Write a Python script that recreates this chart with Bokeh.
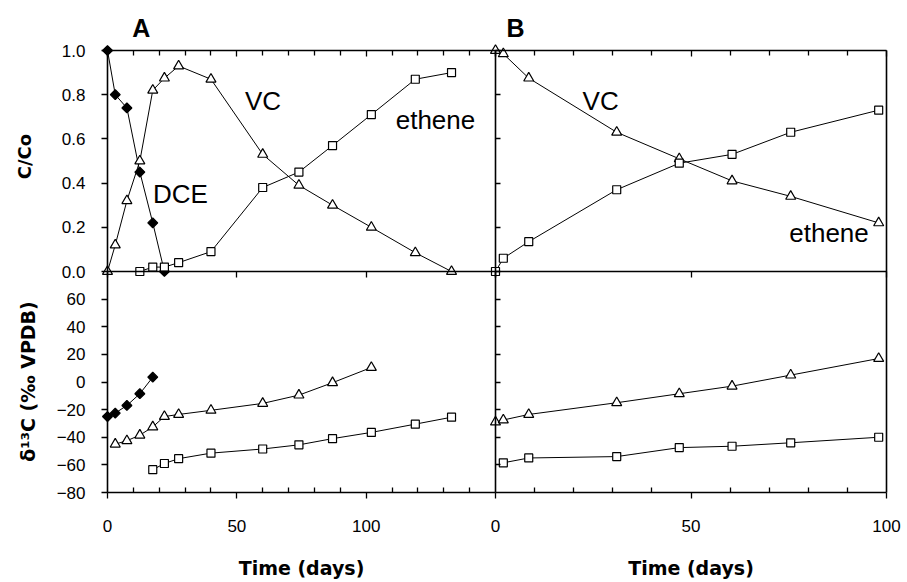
import numpy as np
from bokeh.plotting import figure
from bokeh.models import (LinearAxis, FixedTicker, NumeralTickFormatter, Label,
                          ColumnDataSource, Range1d)
from bokeh.embed import file_html
from bokeh.resources import INLINE

FONT = "Liberation Sans"
TITLE_FONT = "DejaVu Sans"

# ---------------- data ----------------
# Panel A - relative concentration C/Co
a_dce_t = [0, 3, 7.5, 12.5, 17.5, 22]
a_dce_c = [1.0, 0.80, 0.74, 0.45, 0.22, 0.0]
a_vc_t = [0, 3, 7.5, 12.5, 17.5, 22, 27.5, 40, 60, 74, 87, 102, 119, 133]
a_vc_c = [0.0, 0.12, 0.32, 0.50, 0.82, 0.875, 0.93, 0.87, 0.53, 0.39, 0.30, 0.20, 0.085, 0.0]
a_eth_t = [12.5, 17.5, 22, 27.5, 40, 60, 74, 87, 102, 119, 133]
a_eth_c = [0.0, 0.02, 0.02, 0.04, 0.09, 0.38, 0.45, 0.57, 0.71, 0.87, 0.90]
# Panel A - delta 13C
a_dce_dt = [0, 3, 7.5, 12.5, 17.5]
a_dce_d = [-25, -22.5, -17, -8.5, 3.5]
a_vc_dt = [3, 7.5, 12.5, 17.5, 22, 27.5, 40, 60, 74, 87, 102]
a_vc_d = [-45, -42.5, -38.5, -32.5, -25, -23.5, -20.5, -15.5, -9.5, -0.5, 10.5]
a_eth_dt = [17.5, 22, 27.5, 40, 60, 74, 87, 102, 119, 133]
a_eth_d = [-63.5, -59, -55.5, -51.5, -48.5, -45.5, -41, -36.5, -30.5, -25.5]
# Panel B
b_t = [0, 2, 8.5, 31, 47, 60.5, 75.5, 98]
b_vc_c = [1.0, 0.985, 0.875, 0.63, 0.51, 0.41, 0.34, 0.22]
b_eth_c = [0.0, 0.06, 0.135, 0.37, 0.49, 0.53, 0.63, 0.73]
b_vc_d = [-29, -27.5, -23.5, -15, -8.5, -3, 5, 17]
b_eth_dt = [2, 8.5, 31, 47, 60.5, 75.5, 98]
b_eth_d = [-58.5, -55, -54, -47.5, -46.5, -44, -40]

conc_ticks = [0, 0.2, 0.4, 0.6, 0.8, 1.0]
delta_ticks = [-80, -60, -40, -20, 0, 20, 40, 60]
a_time_ticks = [0, 50, 100, 150]
a_time_labels = [0, 50, 100]
b_time_ticks = [0, 50, 100]
a_minor = [10, 20, 30, 40, 60, 70, 80, 90, 110, 120, 130, 140]
b_minor = [10, 20, 30, 40, 60, 70, 80, 90]

# ---------------- layout geometry (pixels) ----------------
W, H = 905, 580
AX0, AX1 = 107, 495                             # panel A: day 0 and day 150
BX0, BX1 = 495, 886                             # panel B: day 0 and day 100
YC1, YC0 = 50, 271                              # C/Co = 1 and 0
YD_HI, YD_LO = 271, 492                         # delta = 80 and -80

sA = (AX1 - AX0) / 150.0
sB = (BX1 - BX0) / 100.0
sC = (YC0 - YC1) / 1.0
sD = (YD_LO - YD_HI) / 160.0

# the drawing frame covers the whole canvas, so nothing gets clipped
p = figure(width=W, height=H,
           x_range=Range1d(-AX0 / sA, 150 + (W - AX1) / sA),
           y_range=Range1d(-(H - YC0) / sC, 1 + YC1 / sC),
           x_axis_location=None, y_axis_location=None,
           toolbar_location=None, output_backend="svg",
           min_border_left=0, min_border_right=0,
           min_border_top=0, min_border_bottom=0)
p.extra_x_ranges = {"b": Range1d(-BX0 / sB, 100 + (W - BX1) / sB)}
p.extra_y_ranges = {"d": Range1d(-80 - (H - YD_LO) / sD, 80 + YD_HI / sD)}
p.grid.visible = False
p.outline_line_color = None
p.background_fill_color = "white"
p.border_fill_color = "white"


def axis(side, ticks, bounds, fixed, xname="default", yname="default", minor=(),
         tick_in=0, tick_out=0, minor_in=0, labels=False, fmt=None, standoff=15):
    ax = LinearAxis(ticker=FixedTicker(ticks=list(ticks), minor_ticks=list(minor)),
                    fixed_location=fixed, bounds=bounds,
                    x_range_name=xname, y_range_name=yname)
    ax.axis_line_color = "black"
    ax.axis_line_width = 1.6
    ax.major_tick_in = tick_in
    ax.major_tick_out = tick_out
    ax.minor_tick_in = minor_in
    ax.minor_tick_out = 0
    ax.major_tick_line_width = 1.3
    ax.minor_tick_line_width = 1.3
    ax.major_tick_line_color = "black"
    ax.minor_tick_line_color = "black"
    if labels:
        ax.major_label_text_font = FONT
        ax.major_label_text_font_size = "17px"
        ax.major_label_text_color = "black"
        ax.major_label_standoff = standoff
        if fmt is not None:
            ax.formatter = fmt
    else:
        ax.major_label_text_color = None
        ax.major_label_standoff = 0
    p.add_layout(ax, side)
    return ax


# left axes of panel A (labelled)
axis("left", conc_ticks, (0, 1), 0, tick_out=6, labels=True,
     fmt=NumeralTickFormatter(format="0.0"), standoff=16)
axis("left", delta_ticks, (-80, 80), 0, yname="d", tick_out=6, labels=True, standoff=16)
# divider between A and B (panel B's left axes, ticks inward)
axis("left", conc_ticks, (0, 1), 0, xname="b", tick_in=5)
axis("left", delta_ticks[1:], (-80, 80), 0, xname="b", yname="d", tick_in=5)
# right edge of panel B
axis("right", [], (-1, 1), 100, xname="b")
# top edges
axis("above", a_time_ticks, (0, 150), 1.0, minor=a_minor, tick_in=6, minor_in=5)
axis("above", b_time_ticks, (0, 100), 1.0, xname="b", minor=b_minor, tick_in=6, minor_in=5)
# separators between concentration and delta panels
axis("below", a_time_ticks, (0, 150), 0, tick_out=6)
axis("below", b_time_ticks, (0, 100), 0, xname="b", tick_out=6)
# bottom time axes
axis("below", a_time_labels, (0, 150), -80, yname="d", minor=a_minor, tick_out=6,
     minor_in=5, labels=True, standoff=21)
axis("below", b_time_ticks, (0, 100), -80, xname="b", yname="d", minor=b_minor,
     tick_out=6, minor_in=5, labels=True, standoff=21)


def series(x, y, marker, size, fill, angle=0.0, xname="default", yname="default"):
    src = ColumnDataSource(dict(x=x, y=y))
    p.line("x", "y", source=src, line_color="black", line_width=1,
           x_range_name=xname, y_range_name=yname)
    p.scatter("x", "y", source=src, marker=marker, size=size, angle=angle,
              fill_color=fill, line_color="black", line_width=1.2,
              x_range_name=xname, y_range_name=yname)


def note(x, y, text, size="26px", style="normal", xname="default", angle=0.0, font=FONT):
    p.add_layout(Label(x=x, y=y, text=text, text_font=font, text_font_size=size,
                       text_font_style=style, text_align="center", angle=angle,
                       text_baseline="middle", text_color="black",
                       x_range_name=xname))


def px_a(px):
    return (px - AX0) / sA


def py_c(py):
    return (YC0 - py) / sC


# Panel A
series(a_dce_t, a_dce_c, "square", 7, "black", angle=np.pi / 4)
series(a_vc_t, a_vc_c, "triangle", 10, "white")
series(a_eth_t, a_eth_c, "square", 8, "white")
series(a_dce_dt, a_dce_d, "square", 7, "black", angle=np.pi / 4, yname="d")
series(a_vc_dt, a_vc_d, "triangle", 10, "white", yname="d")
series(a_eth_dt, a_eth_d, "square", 8, "white", yname="d")
# Panel B
series(b_t, b_vc_c, "triangle", 10, "white", xname="b")
series(b_t, b_eth_c, "square", 8, "white", xname="b")
series(b_t, b_vc_d, "triangle", 10, "white", xname="b", yname="d")
series(b_eth_dt, b_eth_d, "square", 8, "white", xname="b", yname="d")

# panel letters and curve names
note(13.1, 1.104, "A", size="25px", style="bold")
note(60.1, 0.77, "VC")
note(28.2, 0.35, "DCE")
note(126.8, 0.685, "ethene")
note(5.1, 1.104, "B", size="25px", style="bold", xname="b")
note(26.9, 0.77, "VC", xname="b")
note(85.3, 0.173, "ethene", xname="b")

# axis titles
note(px_a(24), py_c(156), "C/Co", size="18px", style="bold", angle=np.pi / 2,
     font=TITLE_FONT)
note(px_a(27), py_c(381), "\u03b4\u00b9\u00b3C (\u2030 VPDB)", size="19px",
     style="bold", angle=np.pi / 2, font=TITLE_FONT)
note(75, py_c(567), "Time (days)", size="19px", style="bold", font=TITLE_FONT)
note(50, py_c(567), "Time (days)", size="19px", style="bold", xname="b",
     font=TITLE_FONT)

open("out.html", "w").write(file_html(p, INLINE))
